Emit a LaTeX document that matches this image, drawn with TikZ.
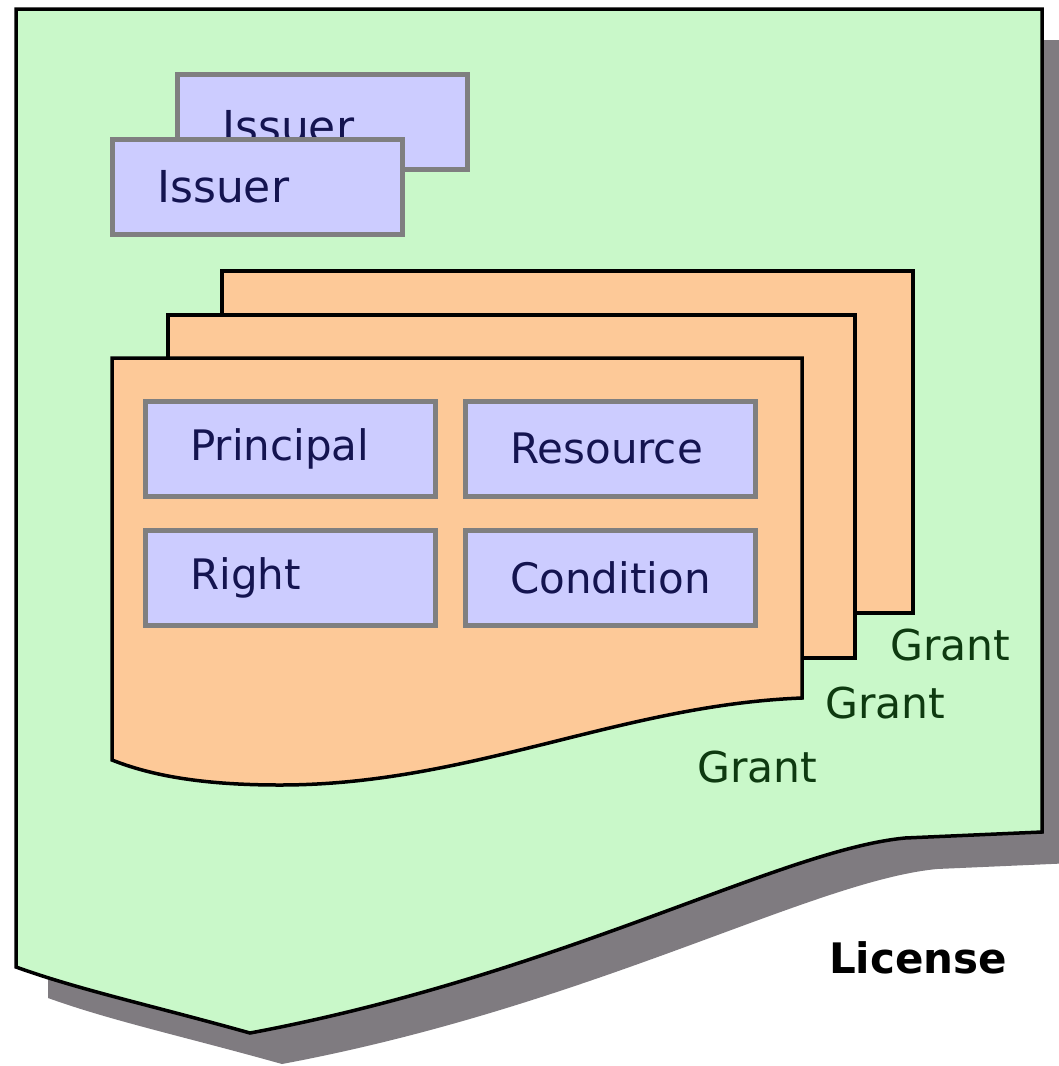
\documentclass[tikz,border=0pt]{standalone}
\usepackage{fontspec}
\setmainfont{DejaVu Sans}
\definecolor{licgreen}{HTML}{C9F8C9}
\definecolor{grantorange}{HTML}{FDC998}
\definecolor{lav}{HTML}{CCCCFF}
\definecolor{shadowgray}{HTML}{7F7B80}
\definecolor{boxgray}{HTML}{7F7F80}
\definecolor{navy}{HTML}{141450}
\definecolor{dkgreen}{HTML}{0E3A10}
\tikzset{
  part/.style={draw=boxgray, line width=4.5pt, fill=lav, anchor=north west,
    minimum width=290pt, minimum height=95pt, inner xsep=44pt, inner ysep=0pt,
    text width=200pt, align=left, font=\fontsize{42}{50}\selectfont, text=navy},
  issuerbox/.style={part, inner xsep=44pt, font=\fontsize{44}{52}\selectfont},
  grantsheet/.style={draw=black, line width=3.5pt, fill=grantorange, line join=miter},
  grantlabel/.style={anchor=base west, inner sep=0pt, font=\fontsize{42.5}{50}\selectfont, text=dkgreen},
  licsheet/.style={draw=black, line width=3.5pt, fill=licgreen, line join=miter}
}
\begin{document}
\begin{tikzpicture}[x=1pt,y=-1pt]
\useasboundingbox[fill=white] (0,0) rectangle (1059,1066);
% shadow of the license
\fill[shadowgray, shift={(32,31)}] (16,9) -- (1042,9) -- (1042,832) -- (905,838)
  .. controls (780,850) and (560,975) .. (250,1033)
  .. controls (150,1005) and (80,990) .. (16,967) -- cycle;
% license sheet
\draw[licsheet] (16,9) -- (1042,9) -- (1042,832) -- (905,838)
  .. controls (780,850) and (560,975) .. (250,1033)
  .. controls (150,1005) and (80,990) .. (16,967) -- cycle;
% issuers
\node[issuerbox, text height=45pt, text depth=4pt] (issuer2) at (175,72) {Issuer};
\node[issuerbox] (issuer1) at (110,137) {Issuer};
% grants
\draw[grantsheet] (222,271) rectangle (913,613);
\draw[grantsheet] (168,315) rectangle (855,658);
\draw[grantsheet] (112,358) -- (802,358) -- (802,698)
  .. controls (620,705) and (470,785) .. (280,785)
  .. controls (200,785) and (150,775) .. (112,760) -- cycle;
% grant parts
\node[part] (principal) at (143,399) {Principal};
\node[part] (resource) at (463,399) {Resource};
\node[part] (right) at (143,528) {Right};
\node[part] (condition) at (463,528) {Condition};
% labels
\node[grantlabel] (grant3) at (890,660) {Grant};
\node[grantlabel] (grant2) at (825,718) {Grant};
\node[grantlabel] (grant1) at (697,782) {Grant};
\node[anchor=base west, inner sep=0pt, font=\fontsize{42}{50}\selectfont\bfseries] (license) at (829,973) {License};
\end{tikzpicture}
\end{document}
